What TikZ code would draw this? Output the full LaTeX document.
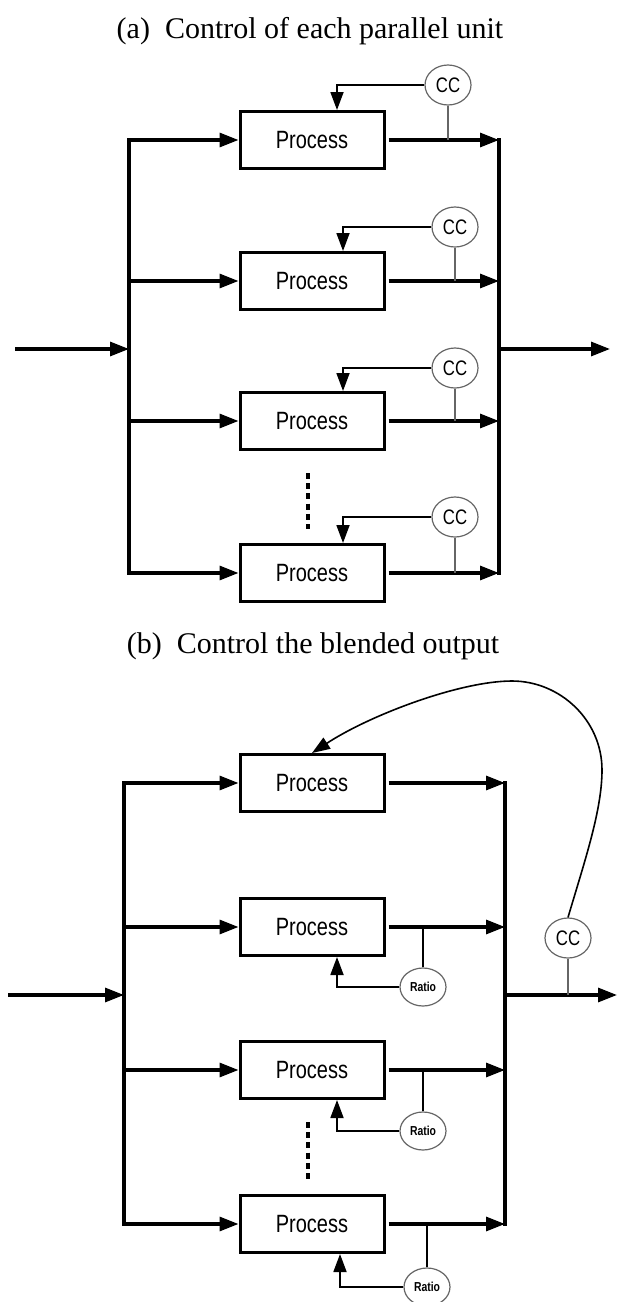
\documentclass[tikz,border=0pt]{standalone}
\usepackage{fontspec}
\setmainfont{Liberation Serif}
\setsansfont{Liberation Sans}
\usepackage{graphicx}
\usetikzlibrary{arrows.meta,shapes.geometric}
\newcommand{\narrowtxt}[1]{\scalebox{.8}[1]{#1}}
\tikzset{
  proc/.style={draw, line width=3pt, minimum width=144pt, minimum height=57pt, inner sep=0pt, font=\sffamily\fontsize{25}{25}\selectfont},
  ctrl/.style={ellipse, draw=black!60, line width=1.2pt, minimum width=46pt, minimum height=40pt, inner sep=0pt, font=\sffamily\fontsize{21}{21}\selectfont},
  ratiobox/.style={ctrl, minimum height=38pt, font=\sffamily\bfseries\fontsize{13}{13}\selectfont},
  flow/.style={line width=3.2pt, -{Triangle[length=19pt,width=14pt]}},
  bus/.style={line width=3.2pt, line cap=rect},
  fb/.style={line width=1.8pt, -{Triangle[length=18pt,width=13pt]}},
  tap/.style={draw=black!60, line width=1.2pt},
  heading/.style={font=\fontsize{30}{30}\selectfont, anchor=base, inner sep=0pt},
  dots/.style={line width=3.8pt, dash pattern=on 6pt off 4.2pt}
}

\begin{document}
\begin{tikzpicture}[x=1pt,y=-1pt]
  \useasboundingbox (0,0) rectangle (618,1302);
  \node[heading] (ta) at (310,38) {(a)\hspace{.5em}Control of each parallel unit};
  \node[proc] (pa1) at (312,140) {\narrowtxt{Process}};
  \node[proc] (pa2) at (312,281) {\narrowtxt{Process}};
  \node[proc] (pa3) at (312,421) {\narrowtxt{Process}};
  \node[proc] (pa4) at (312,573) {\narrowtxt{Process}};
  \coordinate (ina) at (15,349);
  \coordinate (la) at (129,349);
  \coordinate (ra) at (499,349);
  \coordinate (outa) at (610,349);
  \draw[flow] (ina) -- (la);
  \draw[bus] (la |- pa1) -- (la |- pa4);
  \draw[flow] (la |- pa1) -- (pa1);
  \draw[flow] (la |- pa2) -- (pa2);
  \draw[flow] (la |- pa3) -- (pa3);
  \draw[flow] (la |- pa4) -- (pa4);
  \draw[flow] ([xshift=3pt]pa1.east) -- (ra |- pa1);
  \draw[flow] ([xshift=3pt]pa2.east) -- (ra |- pa2);
  \draw[flow] ([xshift=3pt]pa3.east) -- (ra |- pa3);
  \draw[flow] ([xshift=3pt]pa4.east) -- (ra |- pa4);
  \draw[bus] (ra |- pa1) -- (ra |- pa4);
  \draw[flow] (ra) -- (outa);
  \node[ctrl] (cca1) at (448,85) {\narrowtxt{CC}};
  \node[ctrl] (cca2) at (455,227) {\narrowtxt{CC}};
  \node[ctrl] (cca3) at (455,368) {\narrowtxt{CC}};
  \node[ctrl] (cca4) at (455,517) {\narrowtxt{CC}};
  \draw[fb] (cca1.west) -| ([xshift=25pt]pa1.north);
  \draw[fb] (cca2.west) -| ([xshift=31pt]pa2.north);
  \draw[fb] (cca3.west) -| ([xshift=31pt]pa3.north);
  \draw[fb] (cca4.west) -| ([xshift=31pt]pa4.north);
  \draw[tap] (cca1.south) -- (cca1.south |- pa1.east);
  \draw[tap] (cca2.south) -- (cca2.south |- pa2.east);
  \draw[tap] (cca3.south) -- (cca3.south |- pa3.east);
  \draw[tap] (cca4.south) -- (cca4.south |- pa4.east);
  \draw[dots] (308,473) -- (308,529);

  \node[heading] (tb) at (313,653) {(b)\hspace{.5em}Control the blended output};
  \node[proc] (pb1) at (312,783) {\narrowtxt{Process}};
  \node[proc] (pb2) at (312,927) {\narrowtxt{Process}};
  \node[proc] (pb3) at (312,1070) {\narrowtxt{Process}};
  \node[proc] (pb4) at (312,1224) {\narrowtxt{Process}};
  \coordinate (inb) at (8,995);
  \coordinate (lb) at (124,995);
  \coordinate (rb) at (505,995);
  \coordinate (outb) at (617,995);
  \draw[flow] (inb) -- (lb);
  \draw[bus] (lb |- pb1) -- (lb |- pb4);
  \draw[flow] (lb |- pb1) -- (pb1);
  \draw[flow] (lb |- pb2) -- (pb2);
  \draw[flow] (lb |- pb3) -- (pb3);
  \draw[flow] (lb |- pb4) -- (pb4);
  \draw[flow] ([xshift=3pt]pb1.east) -- (rb |- pb1);
  \draw[flow] ([xshift=3pt]pb2.east) -- (rb |- pb2);
  \draw[flow] ([xshift=3pt]pb3.east) -- (rb |- pb3);
  \draw[flow] ([xshift=3pt]pb4.east) -- (rb |- pb4);
  \draw[bus] (rb |- pb1) -- (rb |- pb4);
  \draw[flow] (rb) -- (outb);
  \node[ctrl] (ccb) at (568,938) {\narrowtxt{CC}};
  \draw[tap] (ccb.south) -- (ccb.south |- rb);
  \draw[line width=1.6pt, -{Triangle[length=18pt,width=13pt]}] (ccb.north)
    .. controls (585,860) and (602,810) .. (602,770)
    .. controls (602,720) and (560,681) .. (512,681)
    .. controls (460,681) and (370,715) .. (pb1.north);
  \node[ratiobox] (rt2) at (423,987) {\narrowtxt{Ratio}};
  \node[ratiobox] (rt3) at (423,1131) {\narrowtxt{Ratio}};
  \node[ratiobox] (rt4) at (427,1287) {\narrowtxt{Ratio}};
  \draw[line width=2.2pt] (rt2.north) -- (rt2.north |- pb2.east);
  \draw[line width=2.2pt] (rt3.north) -- (rt3.north |- pb3.east);
  \draw[line width=2.2pt] (rt4.north) -- (rt4.north |- pb4.east);
  \draw[fb] (rt2.west) -| ([xshift=25pt]pb2.south);
  \draw[fb] (rt3.west) -| ([xshift=25pt]pb3.south);
  \draw[fb] (rt4.west) -| ([xshift=28pt]pb4.south);
  \draw[dots] (308,1122) -- (308,1180);
\end{tikzpicture}
\end{document}
